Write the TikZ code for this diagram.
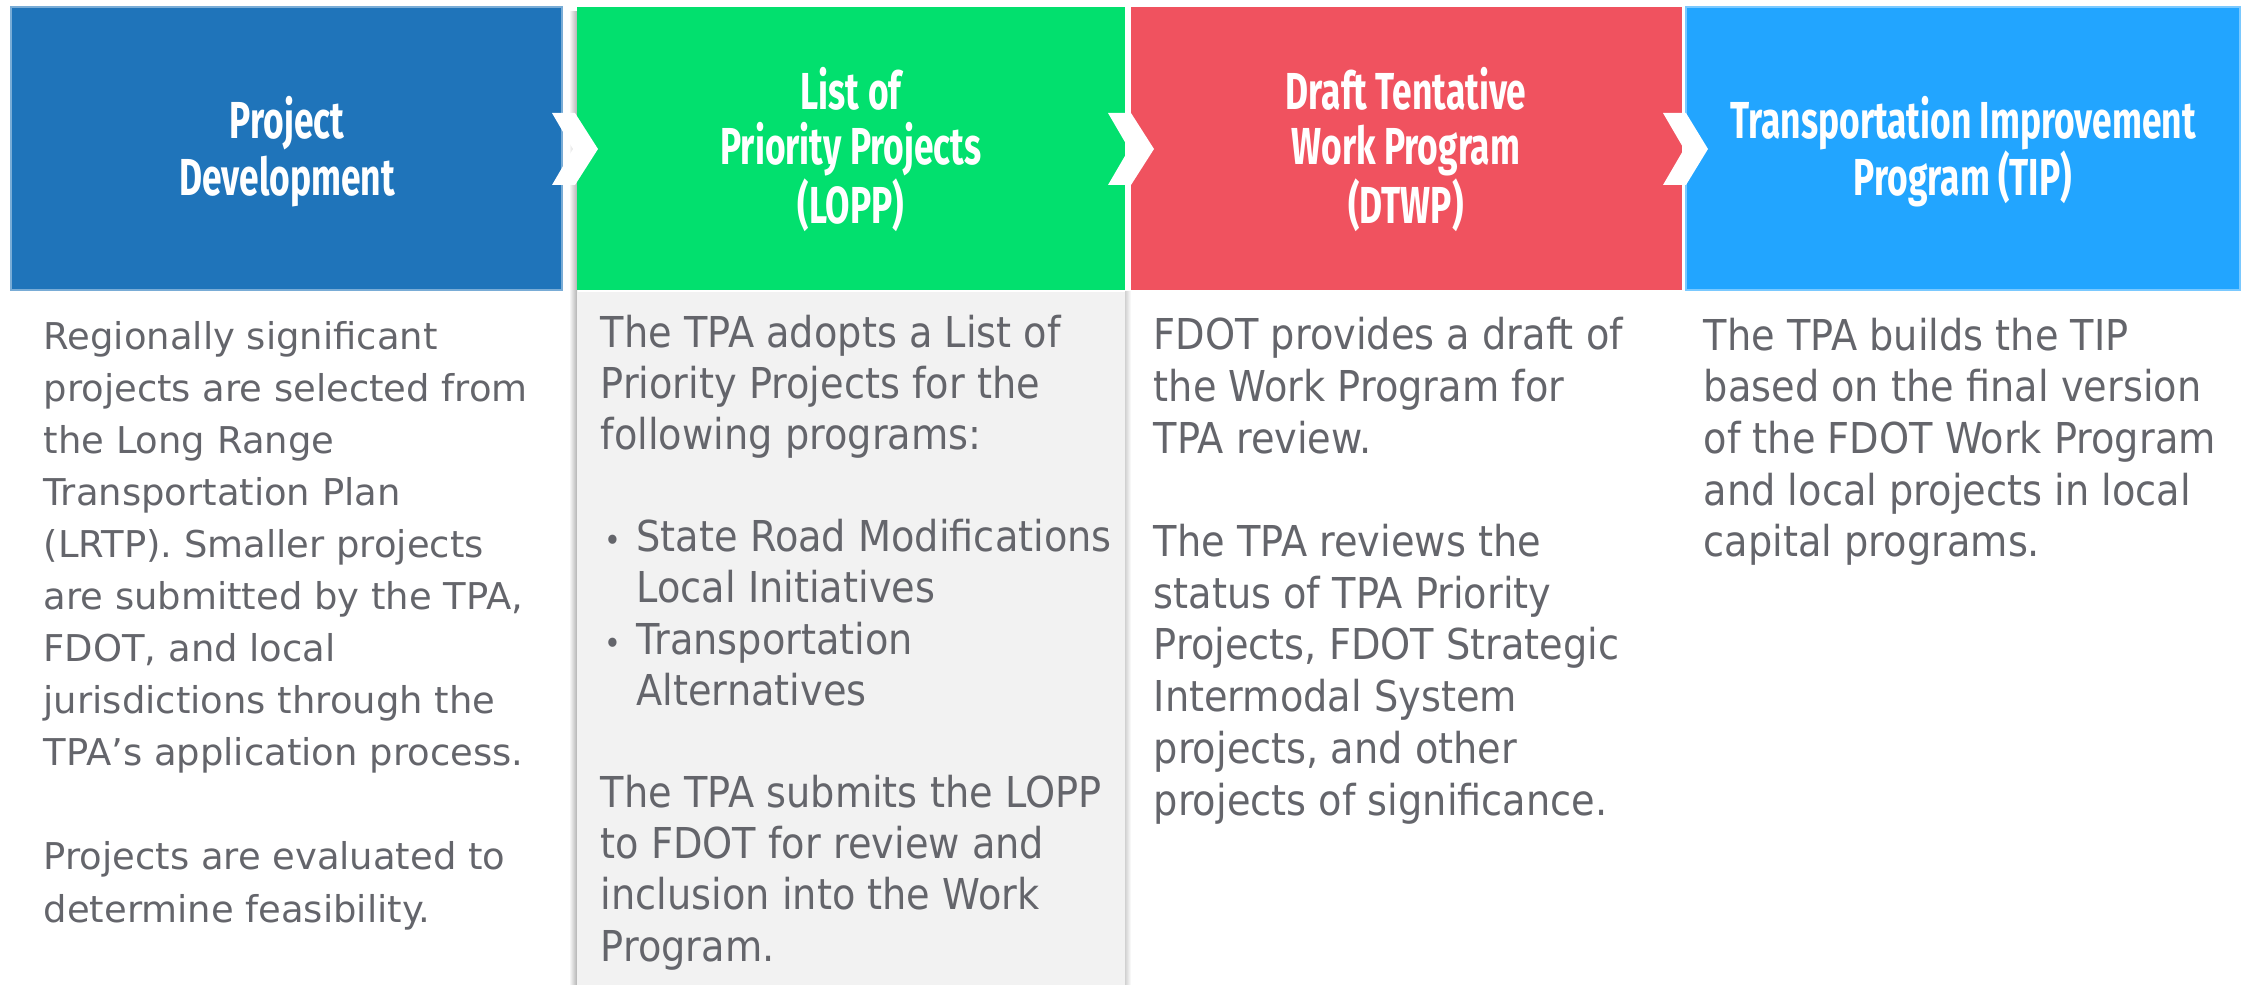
\documentclass[tikz,border=0pt]{standalone}
\usepackage{fontspec}
\setmainfont{DejaVu Sans}
\newfontfamily\bodyfont[FakeStretch=0.9]{DejaVu Sans}
\newfontfamily\headfont[FakeStretch=0.68]{Fira Sans}
\usepackage{tikz}
\definecolor{proj-blue}{RGB}{31,116,186}
\definecolor{lopp-green}{RGB}{2,224,110}
\definecolor{dtwp-red}{RGB}{240,82,95}
\definecolor{tip-blue}{RGB}{34,165,255}
\definecolor{panel-gray}{RGB}{242,242,242}
\definecolor{text-gray}{RGB}{100,101,107}

% nodes are anchored at the baseline of their last line
\tikzset{
	header/.style={text=white, align=center, inner sep=0pt, anchor=base,
		font=\headfont\bfseries\fontsize{14.8pt}{16.4pt}\selectfont},
	bodytext/.style={text=text-gray, align=left, inner sep=0pt, anchor=base west,
		font=\bodyfont\fontsize{12.1pt}{14.7pt}\selectfont},
	introtext/.style={bodytext, font=\fontsize{10.5pt}{14.8pt}\selectfont},
	chevron/.style={fill=white}
}

\begin{document}
\begin{tikzpicture}[x=0.01cm, y=-0.01cm]

			\useasboundingbox (0,0) rectangle (2244,985);

			% shadow round the LOPP column
			\shade[left color=white, right color=black!30] (569,12) rectangle (577,985);
			\shade[left color=black!18, right color=white] (1125,292) rectangle (1131,985);
			\fill[panel-gray] (577,292) rectangle (1125,985);

			% header boxes
			\filldraw[fill=proj-blue, draw=proj-blue!60!white, line width=0.3pt] (11,7) rectangle (562,290);
			\fill[lopp-green] (577,7) rectangle (1125,290);
			\fill[dtwp-red] (1131,7) rectangle (1682,290);
			\filldraw[fill=tip-blue, draw=tip-blue!60!white, line width=0.3pt] (1686,7) rectangle (2240,290);

			% chevrons between the boxes
			\fill[chevron] (552,113) -- (575,113) -- (598,149) -- (575,185) -- (552,185) -- (573,149) -- cycle;
			\fill[chevron] (1108,113) -- (1131,113) -- (1154,149) -- (1131,185) -- (1108,185) -- (1129,149) -- cycle;
			\fill[chevron] (1663,113) -- (1686,113) -- (1708,149) -- (1686,185) -- (1663,185) -- (1684,149) -- cycle;

			% header texts
			\node[header] (devhead) at (287,196) {Project\\Development};
			\node[header, font=\headfont\bfseries\fontsize{14.8pt}{15.6pt}\selectfont] (lopphead) at (851,224) {List of\\Priority Projects\\(LOPP)};
			\node[header, font=\headfont\bfseries\fontsize{14.8pt}{15.6pt}\selectfont] (dtwphead) at (1406,224) {Draft Tentative\\Work Program\\(DTWP)};
			\node[header] (tiphead) at (1963,196) {Transportation Improvement\\Program (TIP)};

			% column texts
			\node[introtext] (devtext) at (43,922) {Regionally significant\\
				projects are selected from\\
				the Long Range\\
				Transportation Plan\\
				(LRTP). Smaller projects\\
				are submitted by the TPA,\\
				FDOT, and local\\
				jurisdictions through the\\
				TPA’s application process.\\[14.8pt]
				Projects are evaluated to\\
				determine feasibility.};

			\node[bodytext, font=\bodyfont\fontsize{12.1pt}{14.55pt}\selectfont] (lopptext) at (600,961) {The TPA adopts a List of\\
				Priority Projects for the\\
				following programs:\\[14.55pt]
				\makebox[10.2pt][l]{\hspace{1.2pt}\small •}State Road Modifications\\
				\hspace*{10.2pt}Local Initiatives\\
				\makebox[10.2pt][l]{\hspace{1.2pt}\small •}Transportation\\
				\hspace*{10.2pt}Alternatives\\[14.55pt]
				The TPA submits the LOPP\\
				to FDOT for review and\\
				inclusion into the Work\\
				Program.};

			\node[bodytext] (dtwptext) at (1153,815) {FDOT provides a draft of\\
				the Work Program for\\
				TPA review.\\[14.7pt]
				The TPA reviews the\\
				status of TPA Priority\\
				Projects, FDOT Strategic\\
				Intermodal System\\
				projects, and other\\
				projects of significance.};

			\node[bodytext] (tiptext) at (1703,557) {The TPA builds the TIP\\
				based on the final version\\
				of the FDOT Work Program\\
				and local projects in local\\
				capital programs.};

\end{tikzpicture}
\end{document}
